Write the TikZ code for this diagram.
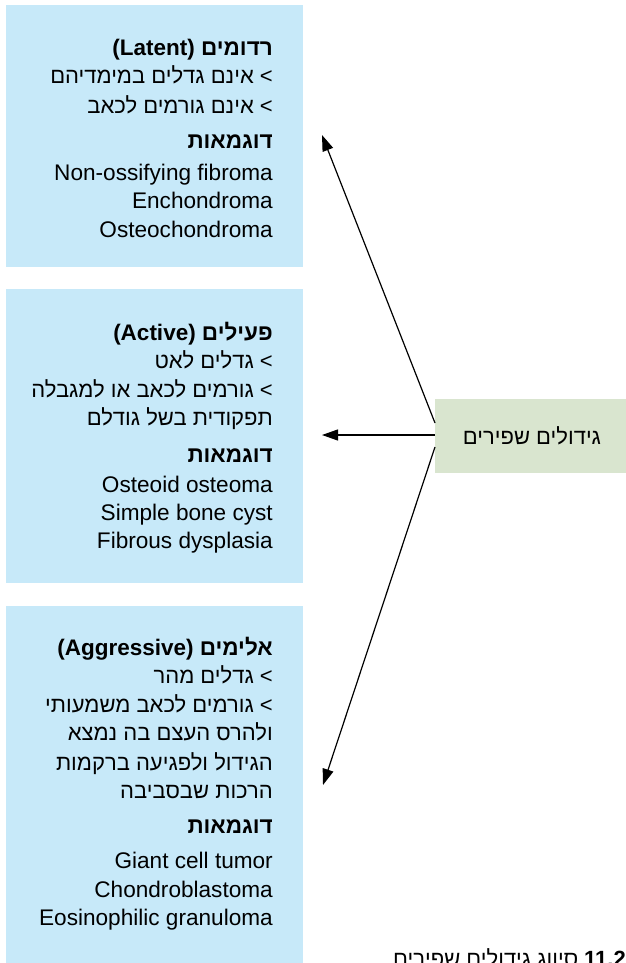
\documentclass[tikz,border=0pt]{standalone}
\usepackage{fontspec}
\setmainfont{Liberation Sans}
\newfontfamily\hebfont[Script=Hebrew]{Liberation Sans}
\TeXXeTstate=1
\usetikzlibrary{arrows.meta}
\definecolor{boxblue}{HTML}{C7E9F9}
\definecolor{boxgreen}{HTML}{D9E5CF}
\newcommand\heb[1]{{\hebfont\beginR #1\endR}}
\tikzset{
  panel/.style={fill=boxblue, draw=none, minimum width=297bp, inner sep=0},
  txt/.style={anchor=base east, inner sep=0, font=\fontsize{22bp}{28bp}\selectfont},
  lat/.style={anchor=base east, inner sep=0, font=\fontsize{22.6bp}{28bp}\selectfont},
  hd/.style={anchor=base east, inner sep=0, font=\fontsize{22.5bp}{28bp}\selectfont\bfseries},
  link/.style={line width=1.2bp, -{Triangle[length=16bp,width=11bp]}}
}
\begin{document}
\begin{tikzpicture}[x=1bp,y=-1bp]
\useasboundingbox (0,0) rectangle (626,963);
\clip (0,0) rectangle (626,963);
% panels
\node[panel, minimum height=262bp] (b1) at (154.5,136) {};
\node[panel, minimum height=294bp] (b2) at (154.5,436) {};
\node[panel, minimum height=364bp] (b3) at (154.5,788) {};
% box 1
\node[hd]  (a1) at (273,55)  {(Latent) \heb{רדומים}};
\node[txt] (a2) at (273,83)  {\heb{אינם גדלים במימדיהם} <};
\node[txt] (a3) at (273,113) {\heb{אינם גורמים לכאב} <};
\node[hd]  (a4) at (273,148) {\heb{דוגמאות}};
\node[lat] (a5) at (273,180) {Non-ossifying fibroma};
\node[lat] (a6) at (273,208) {Enchondroma};
\node[lat] (a7) at (273,237) {Osteochondroma};
% box 2
\node[hd]  (c1) at (273,340) {(Active) \heb{פעילים}};
\node[txt] (c2) at (273,368) {\heb{גדלים לאט} <};
\node[txt] (c3) at (273,397) {\heb{גורמים לכאב או למגבלה} <};
\node[txt] (c4) at (273,425) {\heb{תפקודית בשל גודלם}};
\node[hd]  (c5) at (273,462) {\heb{דוגמאות}};
\node[lat] (c6) at (273,492) {Osteoid osteoma};
\node[lat] (c7) at (273,520) {Simple bone cyst};
\node[lat] (c8) at (273,548) {Fibrous dysplasia};
% box 3
\node[hd]  (d1) at (273,655) {(Aggressive) \heb{אלימים}};
\node[txt] (d2) at (273,683) {\heb{גדלים מהר} <};
\node[txt] (d3) at (273,712) {\heb{גורמים לכאב משמעותי} <};
\node[txt] (d4) at (273,740) {\heb{ולהרס העצם בה נמצא}};
\node[txt] (d5) at (273,770) {\heb{הגידול ולפגיעה ברקמות}};
\node[txt] (d6) at (273,798) {\heb{הרכות שבסביבה}};
\node[hd]  (d7) at (273,833) {\heb{דוגמאות}};
\node[lat] (d8) at (273,868) {Giant cell tumor};
\node[lat] (d9) at (273,897) {Chondroblastoma};
\node[lat] (d10) at (273,925) {Eosinophilic granuloma};
% green box
\node[fill=boxgreen, minimum width=194bp, minimum height=74bp, inner sep=0,
      font=\fontsize{22bp}{28bp}\selectfont] (g) at (532,436) {\heb{גידולים שפירים}};
% arrows
\coordinate (s1) at (435,423);
\coordinate (s2) at (435,435);
\coordinate (s3) at (435,447);
\coordinate (t1) at (322,135);
\coordinate (t2) at (322,435);
\coordinate (t3) at (323,785);
\draw[link] (s1) -- (t1);
\draw[link] (s2) -- (t2);
\draw[link] (s3) -- (t3);
% caption
\node[anchor=base west, inner sep=0, font=\fontsize{22bp}{28bp}\selectfont] (cap) at (393,966)
  {\heb{סיווג גידולים שפירים}\hspace{6bp}\textbf{11.2}};
\end{tikzpicture}
\end{document}
